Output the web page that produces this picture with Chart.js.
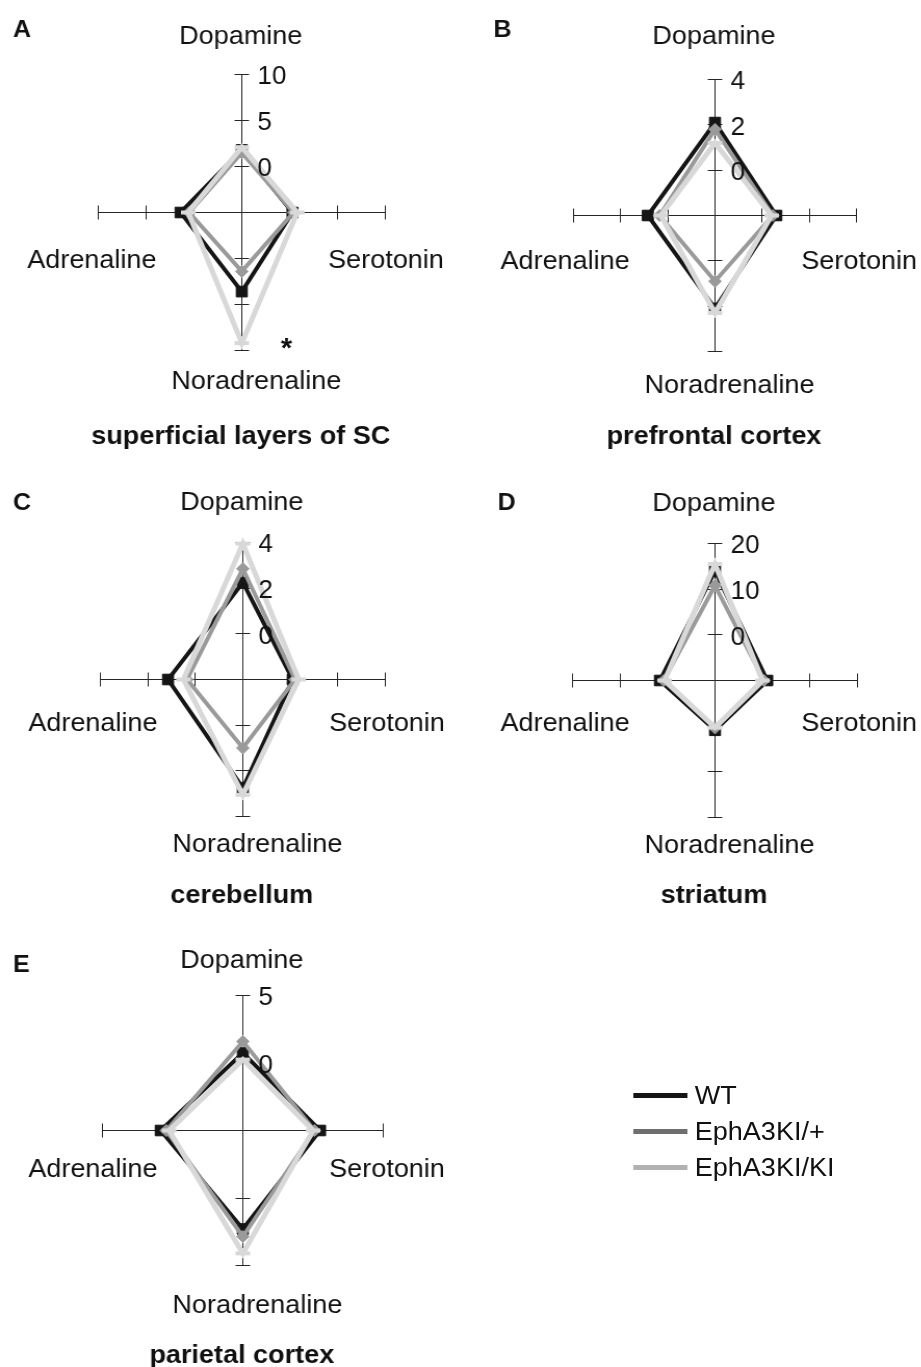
<!DOCTYPE html>
<html>
<head>
<meta charset="utf-8">
<title>Monoamine radar charts</title>
<script src="https://cdn.jsdelivr.net/npm/chart.js@4.4.0/dist/chart.umd.min.js"></script>
<style>
  html, body { margin: 0; padding: 0; background: #fff; }
  body { width: 921px; height: 1367px; overflow: hidden; font-family: "Liberation Sans", Arial, sans-serif; }
  /* the original figure is slightly wider than tall, so the page is stretched a bit */
  #page { position: relative; width: 886px; height: 1367px; transform: scaleX(1.04); transform-origin: 0 0; }
  #page canvas { position: absolute; }
  #legend { position: absolute; left: 609px; top: 1077px; }
  .leg-row { display: flex; align-items: center; height: 36px; }
  .leg-line { width: 52px; height: 5px; margin-right: 7px; }
  .leg-text { font-size: 26px; color: #111; }
</style>
</head>
<body>
<div id="page">
  <canvas id="chartA" width="443" height="470" style="left:0;top:0"></canvas>
  <canvas id="chartB" width="443" height="470" style="left:443px;top:0"></canvas>
  <canvas id="chartC" width="443" height="460" style="left:0;top:470px"></canvas>
  <canvas id="chartD" width="443" height="460" style="left:443px;top:470px"></canvas>
  <canvas id="chartE" width="443" height="437" style="left:0;top:930px"></canvas>
  <div id="legend"></div>
</div>
<script>
// Axes, clockwise from the top
const categories = ['Dopamine', 'Serotonin', 'Noradrenaline', 'Adrenaline'];
const seriesNames = ['WT', 'EphA3KI/+', 'EphA3KI/KI'];

// superficial layers of SC
const scWT  = [1.8, 0.3, 3.6, 1.4];
const scHet = [1.5, 0.4, 1.4, 0.5];
const scKI  = [2.1, 0.8, 9.2, 0.6];
const scTicks = [-5, 0, 5, 10];

// prefrontal cortex
const pfcWT  = [2.1, 0.6, 2.1, 0.85];
const pfcHet = [1.8, 0.45, 0.9, 0.35];
const pfcKI  = [1.2, 0.4, 2.3, 0.3];
const pfcTicks = [-2, 0, 2, 4];

// cerebellum
const cbWT  = [2.25, 0.1, 2.75, 1.15];
const cbHet = [2.85, 0.2, 1.0, 0.35];
const cbKI  = [3.95, 0.35, 3.05, 0.5];
const cbTicks = [-2, 0, 2, 4];

// striatum
const strWT  = [14, 1.0, 0.9, 1.6];
const strHet = [10.8, 0.3, 0.4, 0.8];
const strKI  = [15.5, 0, 0.3, 0.6];
const strTicks = [-10, 0, 10, 20];

// parietal cortex
const parWT  = [0.75, 0.5, 2.3, 0.85];
const parHet = [1.6, 0.1, 2.85, 0.45];
const parKI  = [0.25, 0, 4.1, 0.25];
const parTicks = [-5, 0, 5];

// Series look (chart lines) and legend line colours
const lineColors = ['#151515', '#9a9a9a', '#d8d8d8'];
const legendColors = ['#151515', '#6f6f6f', '#b2b2b2'];

const FONT = '"Liberation Sans", Arial, sans-serif';
const AXIS_COLOR = '#262626';

// Layout of each panel inside its canvas
const panels = [
  { id: 'chartA', letter: 'A', title: 'superficial layers of SC', ticks: scTicks, values: [scWT, scHet, scKI],
    cx: 232, cy: 212, r: 138.5, letterX: 12, letterY: 36, topDy: -169, sideDy: 55, bottomDy: 176, titleDy: 224, star: 2 },
  { id: 'chartB', letter: 'B', title: 'prefrontal cortex', ticks: pfcTicks, values: [pfcWT, pfcHet, pfcKI],
    cx: 244.5, cy: 215, r: 136, letterX: 31, letterY: 36, topDy: -172, sideDy: 53, bottomDy: 177, titleDy: 221, star: null },
  { id: 'chartC', letter: 'C', title: 'cerebellum', ticks: cbTicks, values: [cbWT, cbHet, cbKI],
    cx: 233.5, cy: 209.5, r: 137.5, letterX: 12, letterY: 39, topDy: -169.5, sideDy: 51, bottomDy: 172.5, titleDy: 216, star: null },
  { id: 'chartD', letter: 'D', title: 'striatum', ticks: strTicks, values: [strWT, strHet, strKI],
    cx: 244.5, cy: 210, r: 137, letterX: 35, letterY: 39, topDy: -170, sideDy: 50, bottomDy: 172, titleDy: 215, star: null },
  { id: 'chartE', letter: 'E', title: 'parietal cortex', ticks: parTicks, values: [parWT, parHet, parKI],
    cx: 233.5, cy: 200, r: 135, letterX: 12, letterY: 41, topDy: -163, sideDy: 46, bottomDy: 182, titleDy: 225, star: null }
];

// Tick marks, tick labels, axis names and panel text, placed from the radial scale
function makeDecor(panel) {
  return {
    id: 'decor' + panel.letter,
    beforeDraw(chart) {
      // half pixel shift so the 1px axes come out sharp
      chart.ctx.save();
      chart.ctx.translate(0.5, 0.5);
    },
    beforeDatasetsDraw(chart) {
      const scale = chart.scales.r;
      const ctx = chart.ctx;
      ctx.save();
      ctx.strokeStyle = AXIS_COLOR;
      ctx.lineWidth = 1;
      scale.ticks.forEach(t => {
        if (t.value === scale.min) return;
        const d = scale.getDistanceFromCenterForValue(t.value);
        for (let i = 0; i < categories.length; i++) {
          const p = scale.getPointPosition(i, d);
          const px = Math.round(p.x), py = Math.round(p.y);
          ctx.beginPath();
          if (i % 2 === 0) {
            ctx.moveTo(px - 7, py);
            ctx.lineTo(px + 7, py);
          } else {
            ctx.moveTo(px, py - 7);
            ctx.lineTo(px, py + 7);
          }
          ctx.stroke();
        }
      });
      ctx.restore();
    },
    afterDraw(chart) {
      const scale = chart.scales.r;
      const ctx = chart.ctx;
      const x0 = scale.xCenter, y0 = scale.yCenter;
      ctx.save();
      ctx.fillStyle = '#111';

      // tick labels along the top axis
      ctx.font = '25px ' + FONT;
      ctx.textAlign = 'left';
      ctx.textBaseline = 'middle';
      scale.ticks.forEach(t => {
        if (t.value === scale.min) return;
        const p = scale.getPointPosition(0, scale.getDistanceFromCenterForValue(t.value));
        ctx.fillText(String(t.value), p.x + 15, p.y + 3);
      });

      // axis names
      ctx.font = '26px ' + FONT;
      ctx.textBaseline = 'alphabetic';
      ctx.textAlign = 'center';
      ctx.fillText(categories[0], x0 - 1, y0 + panel.topDy);
      ctx.fillText(categories[2], x0 + 14, y0 + panel.bottomDy);
      ctx.textAlign = 'left';
      ctx.fillText(categories[1], x0 + 83, y0 + panel.sideDy);
      ctx.textAlign = 'right';
      ctx.fillText(categories[3], x0 - 82, y0 + panel.sideDy);

      // significance mark
      if (panel.star !== null) {
        const maxVal = Math.max(...panel.values.map(v => v[panel.star]));
        const p = scale.getPointPosition(panel.star, scale.getDistanceFromCenterForValue(maxVal));
        ctx.font = 'bold 28px ' + FONT;
        ctx.textAlign = 'center';
        ctx.fillText('*', p.x + 43, p.y + 14);
      }

      // panel letter and region name
      ctx.font = 'bold 24px ' + FONT;
      ctx.textAlign = 'left';
      ctx.fillText(panel.letter, panel.letterX, panel.letterY);
      ctx.font = 'bold 26px ' + FONT;
      ctx.textAlign = 'center';
      ctx.textBaseline = 'middle';
      ctx.fillText(panel.title, x0 - 1, y0 + panel.titleDy);
      ctx.restore();

      chart.ctx.restore(); // matches the save in beforeDraw
    }
  };
}

const pointStyles = ['rect', 'rectRot', 'line'];
const pointSizes = [7.5, 6, 7];
const lineWidths = [4, 4, 5];

function drawPanel(panel) {
  const canvas = document.getElementById(panel.id);
  const W = canvas.width, H = canvas.height;
  const ticks = panel.ticks;

  const datasets = panel.values.map((vals, i) => ({
    label: seriesNames[i],
    data: vals,
    borderColor: lineColors[i],
    borderWidth: lineWidths[i],
    fill: false,
    tension: 0,
    pointStyle: pointStyles[i],
    pointRadius: pointSizes[i],
    pointBackgroundColor: lineColors[i],
    pointBorderColor: lineColors[i],
    pointBorderWidth: i === 2 ? 4 : 1,
    order: 2 - i // light grey on top
  }));

  return new Chart(canvas, {
    type: 'radar',
    data: { labels: categories, datasets: datasets },
    options: {
      responsive: false,
      animation: false,
      devicePixelRatio: 1,
      layout: {
        padding: {
          left: panel.cx - panel.r,
          right: W - panel.cx - panel.r,
          top: panel.cy - panel.r,
          bottom: H - panel.cy - panel.r
        }
      },
      plugins: { legend: { display: false }, tooltip: { enabled: false } },
      scales: {
        r: {
          min: ticks[0],
          max: ticks[ticks.length - 1],
          startAngle: 0,
          ticks: { display: false, stepSize: ticks[1] - ticks[0] },
          grid: { display: false },
          angleLines: { display: true, color: AXIS_COLOR, lineWidth: 1 },
          pointLabels: { display: false }
        }
      }
    },
    plugins: [makeDecor(panel)]
  });
}

// Legend for all panels
function buildLegend() {
  const legend = document.getElementById('legend');
  seriesNames.forEach((name, i) => {
    const row = document.createElement('div');
    row.className = 'leg-row';
    const line = document.createElement('div');
    line.className = 'leg-line';
    line.style.background = legendColors[i];
    const text = document.createElement('span');
    text.className = 'leg-text';
    text.textContent = name;
    row.appendChild(line);
    row.appendChild(text);
    legend.appendChild(row);
  });
}

panels.forEach(drawPanel);
buildLegend();
</script>
</body>
</html>
